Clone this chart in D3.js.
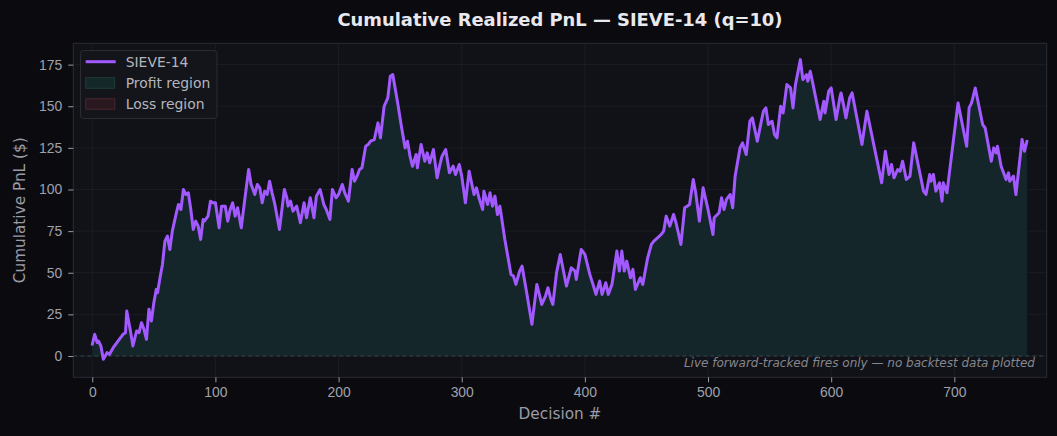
<!DOCTYPE html>
<html>
<head>
<meta charset="utf-8">
<script src="https://cdn.jsdelivr.net/npm/d3@7"></script>
<style>
  html, body { margin: 0; padding: 0; background: #0b0b0f; }
  svg { display: block; font-family: "DejaVu Sans", sans-serif; }
  .axis path { display: none; }
  .axis line { stroke: #9a9ca6; }
  .axis text { fill: #9fa1ab; font-size: 13.9px; }
</style>
</head>
<body>
<div id="chart"></div>
<script>
"use strict";

/* decision index and cumulative PnL */
var decisions = [
  0, 2, 4, 5, 7, 9, 12, 14, 17, 20, 23, 25, 27, 28, 31, 33, 35, 36, 38, 40, 42, 44, 46, 48, 50,
  52, 53, 55, 57, 59, 61, 63, 65, 68, 70, 72, 74, 76, 78, 80, 82, 84, 86, 88, 90, 91, 94, 96,
  98, 100, 103, 105, 108, 110, 112, 114, 116, 118, 121, 124, 127, 129, 132, 134, 136, 138, 140,
  142, 144, 146, 148, 152, 156, 158, 159, 161, 163, 166, 169, 172, 174, 177, 180, 182, 185,
  188, 190, 193, 195, 198, 200, 203, 205, 208, 211, 213, 215, 217, 219, 222, 224, 226, 229,
  232, 234, 237, 240, 242, 244, 248, 251, 254, 256, 258, 260, 263, 264, 267, 270, 272, 274,
  277, 280, 282, 284, 287, 290, 293, 295, 298, 300, 303, 306, 308, 310, 312, 314, 317, 318,
  321, 323, 325, 327, 329, 331, 335, 340, 342, 344, 347, 349, 353, 357, 361, 365, 368, 370,
  372, 374, 377, 380, 385, 389, 392, 393, 397, 400, 404, 407, 409, 412, 414, 417, 419, 422,
  426, 428, 430, 432, 434, 437, 439, 441, 445, 447, 451, 454, 456, 459, 462, 464, 466, 469,
  472, 474, 478, 481, 483, 485, 488, 490, 493, 496, 500, 504, 505, 509, 511, 513, 515, 518,
  520, 522, 526, 528, 531, 534, 536, 540, 543, 545, 547, 549, 552, 554, 556, 559, 561, 564,
  567, 569, 571, 575, 577, 580, 581, 583, 585, 591, 594, 595, 598, 600, 604, 607, 608, 610,
  612, 615, 617, 625, 629, 641, 644, 647, 649, 651, 654, 656, 658, 661, 664, 667, 675, 677,
  680, 681, 683, 685, 688, 690, 691, 694, 703, 710, 712, 714, 717, 720, 723, 725, 730, 732,
  734, 735, 738, 742, 744, 745, 748, 750, 755, 757, 759
];

var pnl = [
  7, 13, 8, 9, 6, -2, 2, 1, 5, 8, 11, 13, 14, 27, 15, 6, 12, 15, 14, 20, 16, 10, 28, 21, 32,
  40, 38, 47, 55, 69, 72, 64, 75, 85, 91, 88, 100, 97, 98, 88, 76, 81, 78, 70, 82, 81, 84, 93,
  92, 92, 77, 90, 90, 81, 88, 92, 84, 89, 77, 95, 112, 103, 97, 103, 101, 92, 99,
  97, 105, 98, 92, 76, 100, 95, 90, 93, 87, 90, 80, 92, 83, 95, 83, 96, 100,
  91, 88, 82, 100, 95, 97, 103, 98, 93, 112, 105, 108, 112, 113, 126, 127, 129, 130,
  140, 131, 150, 155, 168, 169, 152, 138, 125, 129, 120, 114, 121, 113, 127, 117, 122, 116,
  124, 107, 114, 120, 124, 110, 114, 109, 115, 108, 92, 111, 104, 97, 101, 95, 88, 99,
  91, 98, 90, 96, 85, 90, 70, 49, 48, 43, 51, 54, 37, 19, 43, 31, 36, 41,
  35, 31, 50, 61, 42, 53, 51, 46, 64, 61, 49, 42, 37, 45, 37, 44, 37, 43,
  63, 51, 63, 51, 57, 47, 52, 40, 47, 43, 59, 67, 69, 71, 73, 75, 84, 78,
  85, 80, 67, 89, 90, 91, 106, 98, 81, 101, 88, 73, 83, 86, 95, 88, 94, 97,
  89, 108, 125, 128, 121, 141, 143, 129, 140, 147, 149, 139, 141, 133, 131, 150, 146, 163,
  161, 149, 163, 178, 166, 169, 165, 171, 164, 142, 153, 146, 159, 161, 142, 155, 158, 151,
  143, 155, 158, 127, 147, 104, 123, 109, 115, 107, 112, 111, 117, 106, 108, 128, 99, 97,
  109, 105, 109, 99, 104, 93, 104, 98, 152, 126, 149, 152, 161, 150, 139, 137, 117, 125,
  122, 126, 114, 106, 110, 105, 108, 97, 130, 123, 129
];

var xTicks = [0, 100, 200, 300, 400, 500, 600, 700];
var yTicks = [0, 25, 50, 75, 100, 125, 150, 175];

var seriesName = "SIEVE-14";
var legendLabels = ["SIEVE-14", "Profit region", "Loss region"];

var W = 1057, H = 436;
var plot = { left: 73.3, right: 1046.7, top: 43.3, bottom: 377.3 };

var svg = d3.select("#chart")
            .append("svg")
            .attr("width", W)
            .attr("height", H);

svg.append("rect")
   .attr("width", W)
   .attr("height", H)
   .attr("fill", "#0b0b0f");

svg.append("rect")
   .attr("x", plot.left)
   .attr("y", plot.top)
   .attr("width", plot.right - plot.left)
   .attr("height", plot.bottom - plot.top)
   .attr("fill", "#111217");

var x = d3.scaleLinear().domain([-15.4, 775]).range([plot.left, plot.right]);
var y = d3.scaleLinear().domain([-12.8, 187.8]).range([plot.bottom, plot.top]);

var data = decisions.map(function (d, i) { return { d: d, v: pnl[i] }; });

// grid
svg.append("g")
   .selectAll("line")
   .data(xTicks)
   .enter()
   .append("line")
   .attr("x1", function (d) { return x(d); })
   .attr("x2", function (d) { return x(d); })
   .attr("y1", plot.top)
   .attr("y2", plot.bottom)
   .attr("stroke", "#1e1f27")
   .attr("stroke-width", 0.8);

svg.append("g")
   .selectAll("line")
   .data(yTicks)
   .enter()
   .append("line")
   .attr("x1", plot.left)
   .attr("x2", plot.right)
   .attr("y1", function (d) { return y(d); })
   .attr("y2", function (d) { return y(d); })
   .attr("stroke", "#1e1f27")
   .attr("stroke-width", 0.8);

// profit / loss fills
var profitArea = d3.area()
                   .x(function (d) { return x(d.d); })
                   .y0(y(0))
                   .y1(function (d) { return y(Math.max(d.v, 0)); });

var lossArea = d3.area()
                 .x(function (d) { return x(d.d); })
                 .y0(y(0))
                 .y1(function (d) { return y(Math.min(d.v, 0)); });

svg.append("path")
   .datum(data)
   .attr("d", profitArea)
   .attr("fill", "#14262a");

svg.append("path")
   .datum(data)
   .attr("d", lossArea)
   .attr("fill", "#3a1c24");

// zero line
svg.append("line")
   .attr("x1", plot.left)
   .attr("x2", plot.right)
   .attr("y1", y(0))
   .attr("y2", y(0))
   .attr("stroke", "#34484d")
   .attr("stroke-width", 1)
   .attr("stroke-dasharray", "4,3");

// pnl line
var line = d3.line()
             .x(function (d) { return x(d.d); })
             .y(function (d) { return y(d.v); });

svg.append("path")
   .datum(data)
   .attr("d", line)
   .attr("fill", "none")
   .attr("stroke", "#a259ff")
   .attr("stroke-width", 3)
   .attr("stroke-linejoin", "round")
   .attr("stroke-linecap", "round");

// spines
svg.append("rect")
   .attr("x", plot.left)
   .attr("y", plot.top)
   .attr("width", plot.right - plot.left)
   .attr("height", plot.bottom - plot.top)
   .attr("fill", "none")
   .attr("stroke", "#2a2c35")
   .attr("stroke-width", 1);

// axes
var xAxis = d3.axisBottom(x).tickValues(xTicks).tickSize(5).tickPadding(5);
var yAxis = d3.axisLeft(y).tickValues(yTicks).tickSize(5).tickPadding(6);

svg.append("g")
   .attr("class", "axis")
   .attr("transform", "translate(0," + plot.bottom + ")")
   .call(xAxis);

svg.append("g")
   .attr("class", "axis")
   .attr("transform", "translate(" + plot.left + ",0)")
   .call(yAxis);

// annotation
svg.append("text")
   .attr("x", 1035)
   .attr("y", 366.5)
   .attr("text-anchor", "end")
   .attr("font-size", 12)
   .attr("font-style", "italic")
   .attr("fill", "#85878f")
   .text("Live forward-tracked fires only \u2014 no backtest data plotted");

// title and labels
svg.append("text")
   .attr("x", (plot.left + plot.right) / 2)
   .attr("y", 26)
   .attr("text-anchor", "middle")
   .attr("font-size", 17.9)
   .attr("font-weight", "bold")
   .attr("fill", "#e8e8ee")
   .text("Cumulative Realized PnL \u2014 " + seriesName + " (q=10)");

svg.append("text")
   .attr("x", (plot.left + plot.right) / 2)
   .attr("y", 419)
   .attr("text-anchor", "middle")
   .attr("font-size", 15.3)
   .attr("fill", "#9a9ca6")
   .text("Decision #");

svg.append("text")
   .attr("transform", "translate(25," + ((plot.top + plot.bottom) / 2) + ") rotate(-90)")
   .attr("text-anchor", "middle")
   .attr("font-size", 15.3)
   .attr("fill", "#9a9ca6")
   .text("Cumulative PnL ($)");

// legend
var legend = svg.append("g").attr("transform", "translate(80.5,50.5)");

legend.append("rect")
      .attr("width", 136.5)
      .attr("height", 68)
      .attr("rx", 3)
      .attr("fill", "#14151b")
      .attr("stroke", "#2a2b33")
      .attr("stroke-width", 1);

legend.append("line")
      .attr("x1", 5.2)
      .attr("x2", 35.2)
      .attr("y1", 11.2)
      .attr("y2", 11.2)
      .attr("stroke", "#a259ff")
      .attr("stroke-width", 3);

legend.append("rect")
      .attr("x", 5.2)
      .attr("y", 27.2)
      .attr("width", 29)
      .attr("height", 10.6)
      .attr("fill", "#14282a")
      .attr("stroke", "#1e3d38")
      .attr("stroke-width", 1);

legend.append("rect")
      .attr("x", 5.2)
      .attr("y", 48.2)
      .attr("width", 29)
      .attr("height", 10.6)
      .attr("fill", "#2a1820")
      .attr("stroke", "#472630")
      .attr("stroke-width", 1);

legend.selectAll(".legend-label")
      .data(legendLabels)
      .enter()
      .append("text")
      .attr("class", "legend-label")
      .attr("x", 45.2)
      .attr("y", function (d, i) { return 16 + i * 21; })
      .attr("font-size", 13.9)
      .attr("fill", "#b4b5bd")
      .text(function (d) { return d; });
</script>
</body>
</html>
